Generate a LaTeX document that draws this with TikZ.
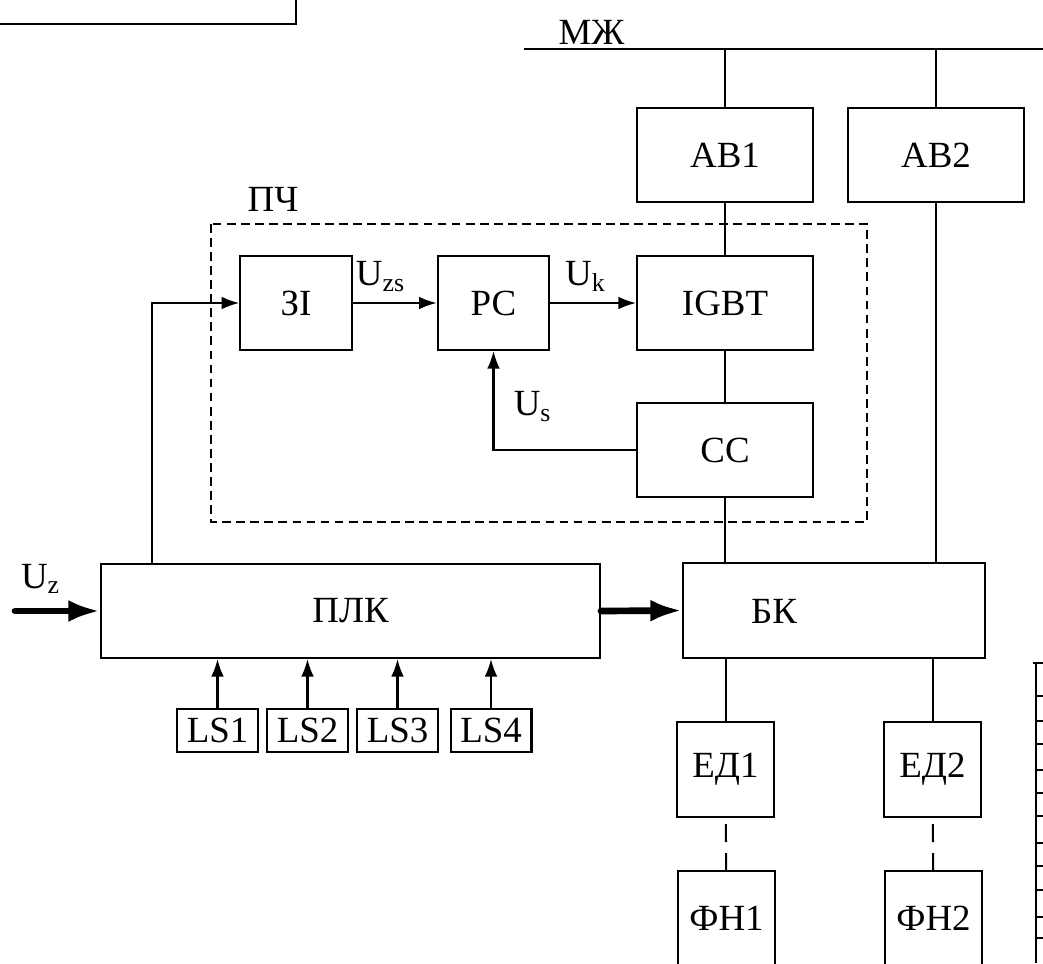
\documentclass[tikz,border=0pt]{standalone}
\usepackage{fontspec}
\setmainfont{Liberation Serif}
\usetikzlibrary{arrows.meta,positioning,calc}
\newcommand{\sig}[1]{U\textsubscript{#1}}
\tikzset{
  blk/.style={draw,line width=1.15pt,inner sep=0pt,align=center,
              font=\fontsize{21}{25}\selectfont},
  wide/.style={blk,minimum width=3.52cm,minimum height=1.88cm},
  narrow/.style={blk,minimum width=2.23cm,minimum height=1.88cm},
  motor/.style={blk,minimum width=1.94cm,minimum height=1.9cm},
  sensor/.style={blk,minimum width=1.62cm,minimum height=0.86cm},
  link/.style={line width=1.15pt},
  arr/.style={link,-{Latex[length=10pt,width=7.2pt]}},
  fat/.style={-{Latex[length=18pt,width=12.5pt]},line width=3.8pt,line cap=round},
  lbl/.style={font=\fontsize{21}{25}\selectfont,inner sep=1pt},
  pchframe/.style={line width=0.6pt,dash pattern=on 5pt off 3pt},
  shaft/.style={link,dash pattern=on 10.2pt off 6.3pt,dash phase=13pt},
}

\begin{document}
\begin{tikzpicture}[x=0.02cm,y=-0.02cm]
    \clip (0,0) rectangle (1043,963);
    % --- mains bus and breakers
    \coordinate (busL) at (524,49);
    \coordinate (busR) at (1043,49);
    \draw[link] (busL) -- node[lbl,above,pos=0.13,yshift=1pt]{МЖ} (busR);
    \node[wide] at (725,155) (ab1) {АВ1};
    \node[wide] at (936,155) (ab2) {АВ2};
    % --- frequency converter
    \node[narrow] at (296,303)   (zi)   {ЗІ};
    \node[narrow] at (493.5,303) (rc)   {РС};
    \node[wide]   at (725,303)   (igbt) {IGBT};
    \node[wide]   at (725,450)   (cc)   {СС};
    \draw[pchframe] (211,224) rectangle (867,522);
    \node[lbl] at (273,199) (pch) {ПЧ};
    % --- controller, sensors, contactor block
    \node[blk,minimum width=9.98cm,minimum height=1.88cm] at (350.5,611) (plk) {ПЛК};
    \node[blk,minimum width=6.04cm,minimum height=1.9cm] at (834,610.5) (bk) {};
    \node[lbl] at (774,611) (bkt) {БК};
    \node[sensor] at (217.5,730.5) (ls1) {LS1};
    \node[sensor] at (307.5,730.5) (ls2) {LS2};
    \node[sensor] at (397.5,730.5) (ls3) {LS3};
    \node[sensor] at (491,730.5)   (ls4) {LS4};
    % --- motors and pumps
    \node[motor] at (725.5,769.5) (ed1) {ЕД1};
    \node[motor] at (932.5,769.5) (ed2) {ЕД2};
    \node[motor,minimum height=1.88cm] at (726.5,918) (fn1) {ФН1};
    \node[motor,minimum height=1.88cm] at (933.5,918) (fn2) {ФН2};
    \coordinate (uzin) at (15,611);

    \draw[link] (ab1.north) -- (ab1.north |- busL);
    \draw[link] (ab2.north) -- (ab2.north |- busL);
    \draw[link] (ab1) -- (igbt);
    \draw[link] (igbt) -- (cc);
    \draw[link] (cc.south) -- (cc.south |- bk.north);
    \draw[link] (ab2.south) -- (ab2.south |- bk.north);
    \draw[link] (ed1.north) -- (ed1.north |- bk.south);
    \draw[link] (ed2.north) -- (ed2.north |- bk.south);
    \draw[shaft] (ed1) -- (fn1);
    \draw[shaft] (ed2) -- (fn2);
    \draw[arr] (zi) -- node[lbl,above=5pt,pos=0.33]{\sig{zs}} (rc);
    \draw[arr] (rc) -- node[lbl,above=5pt,pos=0.41]{\sig{k}} (igbt);
    \draw[arr] (cc.west) -| node[lbl,right=10pt,pos=0.72]{\sig{s}} (rc.south);
    \draw[arr] ([xshift=1.04cm]plk.north west) |- (zi.west);
    \draw[fat] (uzin) -- node[lbl,above=7pt,pos=0.3]{\sig{z}} (plk.west);
    \draw[fat] (plk.east) -- (bk.west);
    \foreach \i in {1,...,4}
      \draw[arr] (ls\i.north) -- (ls\i.north |- plk.south);

    % --- sheet fragments at the edges
    \draw[link] (0,24) -- (296,24) -- (296,0);
    \draw[link] (1036,663) -- (1036,963);
    \draw[link] (1033,663) -- (1043,663);
    \foreach \y in {696,721,744,770,793,816,843,866,890,917,938}
      \draw[link] (1036,\y) -- (1043,\y);
  \end{tikzpicture}
\end{document}
